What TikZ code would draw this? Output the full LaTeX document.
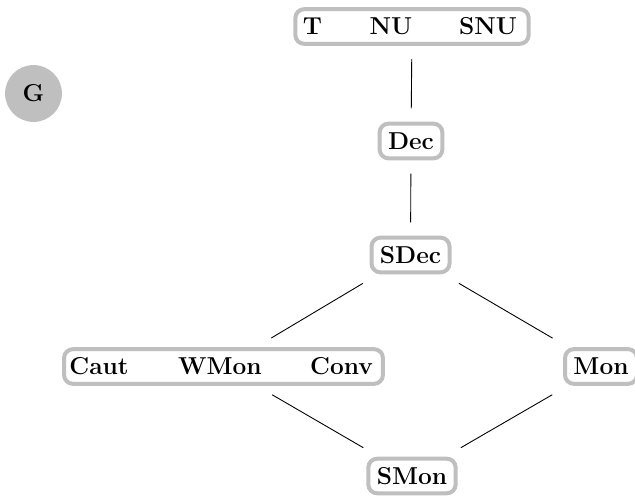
\documentclass[tikz,border=0pt]{standalone}
\usepackage{amsmath}
\usepackage{amssymb}
\usepackage{xcolor}

\newcommand{\policegras}{\fontsize{11}{13}\selectfont\bfseries}

\tikzset{
  classe/.style={draw=gray!50, line width=1.8pt, rounded corners=4pt, fill=white,
    font=\policegras, inner xsep=3.8pt, inner ysep=2pt, minimum height=15.6pt},
  mot/.style={font=\policegras, inner sep=0pt, anchor=base},
  lien/.style={line width=0.4pt, shorten <=6pt, shorten >=6pt},
  lienb/.style={line width=0.4pt, shorten <=8pt, shorten >=8pt}
}

\begin{document}
\begin{tikzpicture}[x=0.45pt, y=-0.45pt]
  \useasboundingbox (0,0) rectangle (635,496);

  % Le sommet G
  \node[circle, fill=gray!50, minimum size=25.6pt, font=\policegras] (g) at (33.5,93.5) {G};

  % Les boites a plusieurs mots
  \node[classe, minimum width=105pt] (haut) at (412,26.5) {};
  \foreach \x/\n/\t in {312.5/t/T, 391/nu/NU, 488/snu/SNU} {
    \node[mot] (\n) at (\x,35) {\t};
  }
  \node[classe, minimum width=143.5pt] (gauche) at (223.5,366.5) {};
  \foreach \x/\n/\t in {99/caut/Caut, 220/wmon/WMon, 341.5/conv/Conv} {
    \node[mot] (\n) at (\x,375) {\t};
  }

  % Les boites simples
  \node[classe] (dec) at (411,141) {Dec};
  \node[classe] (sdec) at (410.5,255) {SDec};
  \node[classe] (mon) at (601,366.5) {Mon};
  \node[classe] (smon) at (412,476) {SMon};

  % Les liens
  \draw[lien] (haut) -- (dec);
  \draw[lien] (dec) -- (sdec);
  \foreach \a/\b in {sdec/gauche, sdec/mon, gauche/smon, mon/smon} {
    \draw[lienb] (\a) -- (\b);
  }
\end{tikzpicture}
\end{document}
